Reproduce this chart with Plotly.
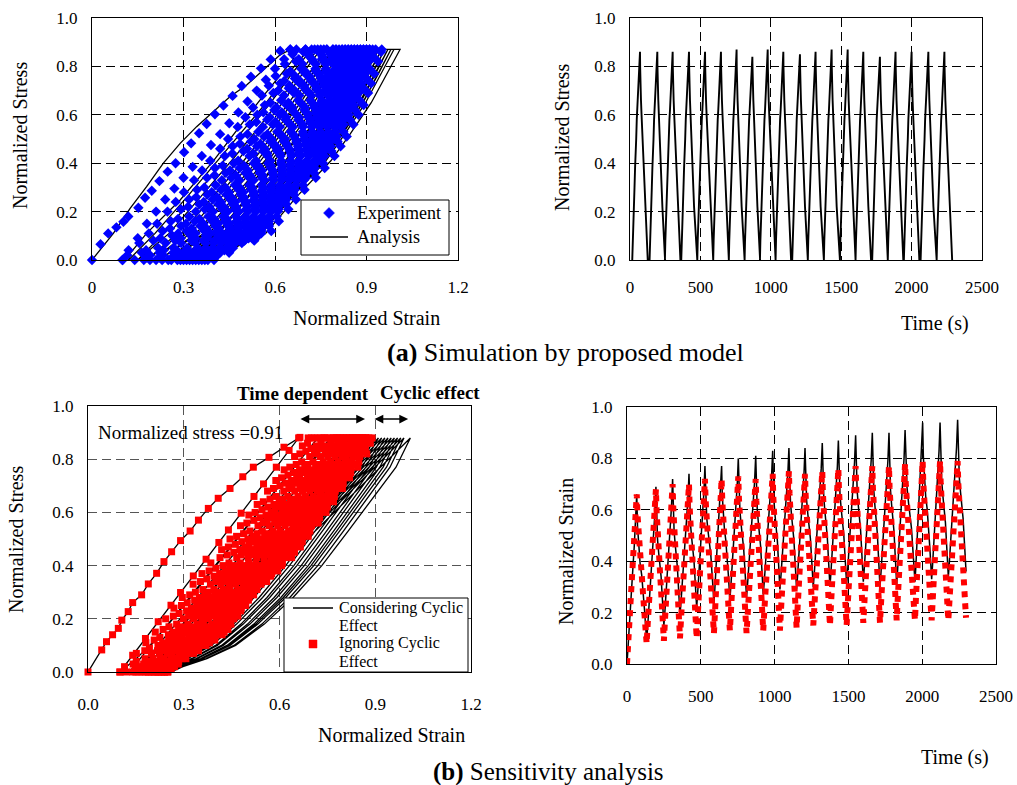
import numpy as np
import plotly.graph_objects as go

W, H = 1017, 785
FONT = "Liberation Serif"


def PX(px):
    return px / W


def PY(py):
    return 1 - py / H


# ================= (a) left : stress-strain, experiment vs analysis =================
EXP_FIRST_LOAD_STRAIN = [0.0, 0.028, 0.053, 0.080, 0.103, 0.119, 0.152, 0.174, 0.196, 0.221, 0.248, 0.274,
                         0.302, 0.325, 0.351, 0.376, 0.403, 0.431, 0.461, 0.491, 0.521, 0.554, 0.586, 0.617]
EXP_FIRST_LOAD_STRESS = [0.0, 0.065, 0.110, 0.135, 0.158, 0.180, 0.216, 0.257, 0.286, 0.326, 0.365, 0.400,
                         0.445, 0.482, 0.524, 0.562, 0.602, 0.638, 0.678, 0.719, 0.757, 0.792, 0.829, 0.864]
EXP_FIRST_UNLOAD_STRAIN = [0.65, 0.63, 0.60, 0.57, 0.54, 0.51, 0.48, 0.45, 0.42, 0.39, 0.36, 0.33, 0.30,
                           0.27, 0.24, 0.21, 0.18, 0.15, 0.12, 0.10]
EXP_FIRST_UNLOAD_STRESS = [0.87, 0.83, 0.79, 0.745, 0.70, 0.655, 0.61, 0.565, 0.52, 0.475, 0.43, 0.385, 0.34,
                           0.295, 0.25, 0.20, 0.15, 0.09, 0.04, 0.0]
EXP_ZERO_STRAIN = [0.10, 0.14, 0.17, 0.19, 0.21, 0.23, 0.25, 0.26, 0.28, 0.29, 0.30, 0.31, 0.32, 0.33, 0.34,
                   0.35, 0.36, 0.37, 0.38, 0.40]
EXP_PEAK_STRAIN = [0.62, 0.67, 0.70, 0.72, 0.74, 0.76, 0.77, 0.79, 0.80, 0.81, 0.82, 0.83, 0.84, 0.85, 0.86,
                   0.87, 0.88, 0.89, 0.90, 0.91]
EXP_HOLD_STRAIN = [0.65, 0.70, 0.73, 0.75, 0.77, 0.79, 0.80, 0.82, 0.83, 0.84, 0.85, 0.86, 0.87, 0.88, 0.89,
                   0.90, 0.91, 0.92, 0.93, 0.95]
EXP_TOP = 0.87

ANA_FIRST_LOAD_STRAIN = [0.0, 0.07, 0.125, 0.179, 0.234, 0.289, 0.343, 0.398, 0.452, 0.507, 0.562, 0.616, 0.66, 0.67]
ANA_FIRST_LOAD_STRESS = [0.0, 0.11, 0.213, 0.303, 0.40, 0.482, 0.551, 0.613, 0.675, 0.723, 0.785, 0.847, 0.875, 0.87]
ANA_FIRST_UNLOAD_STRAIN = [0.67, 0.66, 0.55, 0.40, 0.289, 0.179, 0.125, 0.12]
ANA_FIRST_UNLOAD_STRESS = [0.87, 0.83, 0.66, 0.413, 0.248, 0.11, 0.028, 0.0]
ANA_ZERO_STRAIN = [0.12, 0.15, 0.18, 0.20, 0.22, 0.24, 0.25, 0.27, 0.28, 0.29, 0.30, 0.31, 0.32, 0.33, 0.34,
                   0.35, 0.36, 0.37, 0.37, 0.38]
ANA_PEAK_STRAIN = [0.67, 0.71, 0.74, 0.77, 0.79, 0.81, 0.83, 0.85, 0.86, 0.88, 0.89, 0.90, 0.91, 0.92, 0.93,
                   0.94, 0.95, 0.96, 0.97, 0.98]
ANA_HOLD_STRAIN = [0.67, 0.72, 0.75, 0.78, 0.80, 0.82, 0.84, 0.86, 0.88, 0.89, 0.90, 0.92, 0.93, 0.94, 0.95,
                   0.96, 0.97, 0.98, 0.99, 1.01]

# loop shapes: stress level -> share of the loop width reached
# (early loops are nearly straight, late loops bend strongly near zero stress)
A_SHAPE_STRESS = [0.0, 0.11, 0.26, 0.41, 0.52, 0.65, 0.78, 0.87]
A_SHAPE_EARLY = [0.0, 0.12, 0.30, 0.47, 0.60, 0.75, 0.89, 1.0]
A_SHAPE_LATE = [0.0, 0.33, 0.50, 0.70, 0.80, 0.90, 0.96, 1.0]
ANA_SHAPE_LATE = [0.0, 0.30, 0.46, 0.64, 0.74, 0.85, 0.94, 1.0]
CURVE_WEIGHT = [0.0, 0.15, 0.3, 0.4, 0.5, 0.55, 0.6, 0.65, 0.7, 0.75, 0.8, 0.83, 0.86, 0.89, 0.92, 0.94,
                0.96, 0.98, 1.0, 1.0]

# stress levels of the recorded (stepped) readings, four staggered sets
MARK_STRESS = [
    [0.04, 0.09, 0.13, 0.17, 0.22, 0.26, 0.30, 0.35, 0.39, 0.44, 0.48, 0.52, 0.57, 0.61, 0.65, 0.70, 0.74, 0.78, 0.83],
    [0.01, 0.05, 0.10, 0.14, 0.18, 0.23, 0.27, 0.31, 0.36, 0.40, 0.45, 0.49, 0.53, 0.58, 0.62, 0.66, 0.71, 0.75, 0.79, 0.84],
    [0.02, 0.07, 0.11, 0.15, 0.20, 0.24, 0.28, 0.33, 0.37, 0.41, 0.46, 0.50, 0.55, 0.59, 0.63, 0.68, 0.72, 0.76, 0.81, 0.85],
    [0.03, 0.08, 0.12, 0.16, 0.21, 0.25, 0.29, 0.34, 0.38, 0.43, 0.47, 0.51, 0.56, 0.60, 0.64, 0.69, 0.73, 0.77, 0.82, 0.86],
]

# ================= (a) right : stress vs time =================
A_PEAK_T = [71, 194, 303, 419, 533, 646, 757, 869, 978, 1089, 1207, 1318, 1432, 1546, 1657, 1775, 1886,
            2000, 2119, 2233]
A_PEAK = [0.86, 0.86, 0.86, 0.86, 0.86, 0.86, 0.87, 0.84, 0.87, 0.86, 0.85, 0.86, 0.87, 0.87, 0.86, 0.84,
          0.86, 0.86, 0.86, 0.86]
A_RISE_DT = [-55, -52, -47, -43, -39, -35, -31, -27, -23, -19, -15, -11, -7, -3]
A_RISE_STRESS = [0.0, 0.08, 0.18, 0.22, 0.3, 0.38, 0.42, 0.5, 0.58, 0.62, 0.68, 0.70, 0.74, 0.82]
A_FALL_DT = [1, 3, 7, 11, 15, 19, 23, 27, 32, 36, 41, 46, 49, 53, 55]
A_FALL_STRESS = [0.8, 0.7, 0.66, 0.6, 0.55, 0.46, 0.42, 0.34, 0.28, 0.22, 0.16, 0.1, 0.06, 0.06, 0.0]

# ================= (b) left : sensitivity, stress-strain =================
RED_FIRST_LOAD_STRAIN = [0.0, 0.043, 0.058, 0.077, 0.095, 0.106, 0.126, 0.14, 0.168, 0.189, 0.215, 0.238,
                         0.262, 0.29, 0.32, 0.346, 0.377, 0.408, 0.445, 0.485, 0.518, 0.567, 0.614, 0.664]
RED_FIRST_LOAD_STRESS = [0.0, 0.083, 0.114, 0.14, 0.164, 0.195, 0.227, 0.261, 0.29, 0.331, 0.371, 0.415,
                         0.452, 0.494, 0.53, 0.571, 0.615, 0.653, 0.69, 0.734, 0.77, 0.807, 0.845, 0.882]
RED_FIRST_UNLOAD_STRAIN = [0.66, 0.63, 0.59, 0.55, 0.52, 0.48, 0.44, 0.41, 0.37, 0.33, 0.29, 0.26, 0.22,
                           0.18, 0.14, 0.10]
RED_FIRST_UNLOAD_STRESS = [0.88, 0.833, 0.77, 0.707, 0.66, 0.597, 0.534, 0.487, 0.424, 0.361, 0.299, 0.251,
                           0.189, 0.126, 0.063, 0.0]
RED_ZERO_STRAIN = [0.10, 0.12, 0.14, 0.15, 0.16, 0.17, 0.18, 0.19, 0.19, 0.20, 0.21, 0.21, 0.22, 0.22, 0.23,
                   0.23, 0.24, 0.24, 0.25, 0.25]
RED_PEAK_STRAIN = [0.66, 0.69, 0.71, 0.73, 0.74, 0.76, 0.77, 0.78, 0.79, 0.80, 0.81, 0.82, 0.83, 0.83, 0.84,
                   0.85, 0.85, 0.86, 0.87, 0.87]
RED_HOLD_STRAIN = [0.66, 0.70, 0.72, 0.74, 0.75, 0.77, 0.78, 0.79, 0.80, 0.81, 0.82, 0.83, 0.84, 0.84, 0.85,
                   0.86, 0.86, 0.87, 0.88, 0.89]
RED_TOP = 0.88
B_SHAPE_STRESS = [0.0, 0.035, 0.145, 0.30, 0.44, 0.616, 0.73, 0.81, 0.88]
RED_SHAPE_EARLY = [0.0, 0.04, 0.165, 0.34, 0.50, 0.70, 0.83, 0.92, 1.0]
RED_SHAPE_LATE = [0.0, 0.06, 0.28, 0.43, 0.62, 0.79, 0.89, 0.97, 1.0]

BLK_FIRST_UNLOAD_STRAIN = [0.66, 0.10]
BLK_FIRST_UNLOAD_STRESS = [0.88, 0.0]
BLK_ZERO_STRAIN = [0.10, 0.13, 0.15, 0.17, 0.18, 0.19, 0.20, 0.21, 0.22, 0.22, 0.23, 0.23, 0.24, 0.24, 0.25,
                   0.25, 0.25, 0.26, 0.26, 0.26]
BLK_PEAK_STRAIN = [0.66, 0.72, 0.76, 0.79, 0.82, 0.84, 0.86, 0.87, 0.89, 0.90, 0.91, 0.92, 0.93, 0.94, 0.95,
                   0.96, 0.97, 0.98, 0.99, 1.01]
BLK_SHAPE_STRESS = [0.0, 0.02, 0.05, 0.10, 0.18, 0.28, 0.40, 0.53, 0.66, 0.77, 0.88]
BLK_SHAPE_EARLY = [0.0, 0.03, 0.07, 0.13, 0.22, 0.33, 0.46, 0.60, 0.75, 0.87, 1.0]
BLK_SHAPE_LATE = [0.0, 0.05, 0.15, 0.27, 0.39, 0.51, 0.63, 0.74, 0.85, 0.94, 1.0]

# ================= (b) right : strain vs time =================
B_PEAK_T = [66, 196, 309, 420, 528, 641, 754, 872, 987, 1097, 1206, 1323, 1432, 1549, 1662, 1775, 1884,
            2003, 2121, 2240]
B_BLK_PEAK = [0.66, 0.69, 0.72, 0.74, 0.77, 0.77, 0.80, 0.81, 0.83, 0.84, 0.84, 0.86, 0.87, 0.89, 0.90,
              0.90, 0.91, 0.94, 0.94, 0.95]
B_RED_PEAK = [0.66, 0.68, 0.70, 0.70, 0.72, 0.72, 0.73, 0.72, 0.74, 0.75, 0.74, 0.75, 0.76, 0.77, 0.77,
              0.77, 0.78, 0.79, 0.79, 0.79]
B_TROUGH_T = [0, 133, 250, 359, 472, 589, 697, 810, 923, 1036, 1149, 1262, 1375, 1488, 1601, 1714, 1827,
              1951, 2064, 2177, 2297]
B_RED_TROUGH = [0.0, 0.08, 0.09, 0.10, 0.10, 0.12, 0.13, 0.12, 0.13, 0.13, 0.14, 0.15, 0.15, 0.15, 0.16,
                0.16, 0.17, 0.17, 0.17, 0.17, 0.18]
B_BLK_TROUGH = [0.0, 0.09, 0.15, 0.19, 0.22, 0.24, 0.25, 0.26, 0.27, 0.29, 0.29, 0.30, 0.30, 0.31, 0.32,
                0.30, 0.31, 0.32, 0.33, 0.34, 0.36]
B_RISE_POS = [0, 0.12, 0.25, 0.38, 0.5, 0.62, 0.75, 0.88, 1.0]
B_RED_RISE = [0, 0.13, 0.27, 0.40, 0.52, 0.64, 0.76, 0.88, 1.0]
B_BLK_RISE = [0, 0.10, 0.22, 0.36, 0.48, 0.58, 0.70, 0.82, 1.0]
B_FALL_POS = [0, 0.08, 0.2, 0.35, 0.5, 0.65, 0.8, 0.92, 1.0]
B_RED_FALL = [1, 0.86, 0.72, 0.58, 0.45, 0.32, 0.18, 0.07, 0]
B_BLK_FALL = [1, 0.78, 0.62, 0.52, 0.45, 0.35, 0.2, 0.08, 0]

X_TICKS_STRAIN = [0, 0.3, 0.6, 0.9, 1.2]
Y_TICKS = [0, 0.2, 0.4, 0.6, 0.8, 1.0]
Y_TICKTEXT = ["0.0", "0.2", "0.4", "0.6", "0.8", "1.0"]
T_TICKS = [0, 500, 1000, 1500, 2000, 2500]


# ---------------- path builders ----------------
def share(s, sh_s, early, late, w):
    return (1 - w) * float(np.interp(s, sh_s, early)) + w * float(np.interp(s, sh_s, late))


def marker_loops(first_x, first_y, zero, peak, hold, top, sh_s, early, late):
    xs, ys = list(first_x), list(first_y)
    for k in range(1, len(zero)):
        z0, p, h, z1, w = zero[k - 1], peak[k], hold[k], zero[k], CURVE_WEIGHT[k]
        lv = MARK_STRESS[(2 * k) % 4]
        xs += [z0] + [z0 + share(s, sh_s, early, late, w) * (p - z0) for s in lv] + [p, h]
        ys += [0.0] + lv + [top, top]
        lv = MARK_STRESS[(2 * k + 1) % 4][::-1]
        xs += [z1 + share(s, sh_s, early, late, w) * (h - z1) for s in lv]
        ys += lv
    xs.append(zero[-1]); ys.append(0.0)
    return xs, ys


def line_loops(first_x, first_y, zero, peak, hold, sh_s, early, late, unload_curved=True):
    xs, ys = list(first_x), list(first_y)
    for k in range(1, len(zero)):
        z0, p, z1, w = zero[k - 1], peak[k], zero[k], CURVE_WEIGHT[k]
        h = hold[k] if hold else p
        xs += [z0 + share(s, sh_s, early, late, w) * (p - z0) for s in sh_s] + [h]
        ys += list(sh_s) + [sh_s[-1]]
        if unload_curved:
            xs += [z1 + share(s, sh_s, early, late, w) * (h - z1) for s in sh_s[::-1]]
            ys += list(sh_s[::-1])
        else:
            xs.append(z1); ys.append(0.0)
    return xs, ys


exp_x, exp_y = marker_loops(EXP_FIRST_LOAD_STRAIN + [EXP_HOLD_STRAIN[0]] + EXP_FIRST_UNLOAD_STRAIN,
                            EXP_FIRST_LOAD_STRESS + [EXP_TOP] + EXP_FIRST_UNLOAD_STRESS,
                            EXP_ZERO_STRAIN, EXP_PEAK_STRAIN, EXP_HOLD_STRAIN, EXP_TOP,
                            A_SHAPE_STRESS, A_SHAPE_EARLY, A_SHAPE_LATE)
ana_x, ana_y = line_loops(ANA_FIRST_LOAD_STRAIN + ANA_FIRST_UNLOAD_STRAIN,
                          ANA_FIRST_LOAD_STRESS + ANA_FIRST_UNLOAD_STRESS,
                          ANA_ZERO_STRAIN, ANA_PEAK_STRAIN, ANA_HOLD_STRAIN,
                          A_SHAPE_STRESS, A_SHAPE_EARLY, ANA_SHAPE_LATE)
red_x, red_y = marker_loops(RED_FIRST_LOAD_STRAIN + RED_FIRST_UNLOAD_STRAIN,
                            RED_FIRST_LOAD_STRESS + RED_FIRST_UNLOAD_STRESS,
                            RED_ZERO_STRAIN, RED_PEAK_STRAIN, RED_HOLD_STRAIN, RED_TOP,
                            B_SHAPE_STRESS, RED_SHAPE_EARLY, RED_SHAPE_LATE)
blk_x, blk_y = line_loops(RED_FIRST_LOAD_STRAIN + BLK_FIRST_UNLOAD_STRAIN,
                          RED_FIRST_LOAD_STRESS + BLK_FIRST_UNLOAD_STRESS,
                          BLK_ZERO_STRAIN, BLK_PEAK_STRAIN, None,
                          BLK_SHAPE_STRESS, BLK_SHAPE_EARLY, BLK_SHAPE_LATE, unload_curved=False)

at, ay = [], []
for tp, pk in zip(A_PEAK_T, A_PEAK):
    at += [tp + d for d in A_RISE_DT] + [tp] + [tp + d for d in A_FALL_DT]
    ay += A_RISE_STRESS + [pk] + A_FALL_STRESS


def strain_series(peaks, troughs, rise, fall):
    ts, vs = [], []
    for k, (tp, pk) in enumerate(zip(B_PEAK_T, peaks)):
        t0, v0 = B_TROUGH_T[k], troughs[k]
        t1, v1 = B_TROUGH_T[k + 1], troughs[k + 1]
        for pos, f in zip(B_RISE_POS, rise):
            ts.append(t0 + pos * (tp - t0)); vs.append(v0 + f * (pk - v0))
        for pos, f in zip(B_FALL_POS[1:], fall[1:]):
            ts.append(tp + pos * (t1 - tp)); vs.append(v1 + f * (pk - v1))
    return ts, vs


bt_blk, bv_blk = strain_series(B_BLK_PEAK, B_BLK_TROUGH, B_BLK_RISE, B_BLK_FALL)
bt_red, bv_red = strain_series(B_RED_PEAK, B_RED_TROUGH, B_RED_RISE, B_RED_FALL)

# ---------------- figure ----------------
fig = go.Figure()
fig.add_trace(go.Scatter(x=ana_x, y=ana_y, mode="lines", name="Analysis", showlegend=False,
                         line=dict(color="black", width=1.3), xaxis="x", yaxis="y"))
fig.add_trace(go.Scatter(x=exp_x, y=exp_y, mode="markers", name="Experiment", showlegend=False,
                         marker=dict(symbol="diamond", size=8, color="#0000FF"), cliponaxis=False,
                         xaxis="x", yaxis="y"))
fig.add_trace(go.Scatter(x=at, y=ay, mode="lines", showlegend=False,
                         line=dict(color="black", width=1.9), xaxis="x2", yaxis="y2"))
fig.add_trace(go.Scatter(x=blk_x, y=blk_y, mode="lines", name="Considering Cyclic Effect", showlegend=False,
                         line=dict(color="black", width=1.3), xaxis="x3", yaxis="y3"))
fig.add_trace(go.Scatter(x=red_x, y=red_y, mode="markers", name="Ignoring Cyclic Effect", showlegend=False,
                         marker=dict(symbol="square", size=7, color="#FF0000"), cliponaxis=False,
                         xaxis="x3", yaxis="y3"))
fig.add_trace(go.Scatter(x=bt_blk, y=bv_blk, mode="lines", showlegend=False,
                         line=dict(color="black", width=1.5), xaxis="x4", yaxis="y4"))
fig.add_trace(go.Scatter(x=bt_red, y=bv_red, mode="lines", showlegend=False,
                         line=dict(color="#FF0000", width=6, dash="dot"), xaxis="x4", yaxis="y4"))

tickfont = dict(family=FONT, size=17, color="black")


def xax(dom, rng, tickvals, ticktext, anchor, gridcolor, standoff):
    return dict(domain=dom, range=rng, tickvals=tickvals, ticktext=ticktext, anchor=anchor,
                showline=True, mirror=True, linecolor="black", linewidth=1.2, ticks="",
                showgrid=True, gridcolor=gridcolor, griddash="9px,5px", gridwidth=1, zeroline=False,
                tickfont=tickfont, ticklabelstandoff=standoff, fixedrange=True, automargin=False)


def yax(dom, anchor, gridcolor):
    return dict(domain=dom, range=[0, 1.0], tickvals=Y_TICKS, ticktext=Y_TICKTEXT, anchor=anchor,
                showline=True, mirror=True, linecolor="black", linewidth=1.2, ticks="",
                showgrid=True, gridcolor=gridcolor, griddash="9px,5px", gridwidth=1, zeroline=False,
                tickfont=tickfont, ticklabelstandoff=10, fixedrange=True, automargin=False)


ya_a = [PY(260), PY(18)]
fig.update_layout(
    width=W, height=H, autosize=False, margin=dict(l=0, r=0, t=0, b=0),
    paper_bgcolor="white", plot_bgcolor="white", showlegend=False,
    font=dict(family=FONT, color="black"),
    xaxis=xax([PX(92), PX(458)], [0, 1.2], X_TICKS_STRAIN, ["0", "0.3", "0.6", "0.9", "1.2"], "y", "black", 11),
    yaxis=yax(ya_a, "x", "black"),
    xaxis2=xax([PX(630), PX(982)], [0, 2500], T_TICKS, [str(v) for v in T_TICKS], "y2", "black", 11),
    yaxis2=yax(ya_a, "x2", "black"),
    xaxis3=xax([PX(88), PX(471)], [0, 1.2], X_TICKS_STRAIN, ["0.0", "0.3", "0.6", "0.9", "1.2"], "y3",
               "#555555", 16),
    yaxis3=yax([PY(672), PY(406)], "x3", "#555555"),
    xaxis4=xax([PX(627), PX(996)], [0, 2500], T_TICKS, [str(v) for v in T_TICKS], "y4", "black", 16),
    yaxis4=yax([PY(664), PY(407)], "x4", "black"),
)

ann, shapes = [], []


def text(s, px, py, size, angle=0, anchor="center"):
    ann.append(dict(text=s, x=PX(px), y=PY(py), xref="paper", yref="paper", showarrow=False,
                    xanchor=anchor, yanchor="middle", textangle=angle,
                    font=dict(family=FONT, size=size, color="black")))


text("Normalized Stress", 20, 136, 20, -90)
text("Normalized Strain", 366, 318, 20)
text("Normalized Stress", 562, 138, 20, -90)
text("Time (s)", 935, 323, 20)
text("<b>(a)</b> Simulation by proposed model", 565, 352, 26)
text("Normalized Stress", 16, 540, 20, -90)
text("Normalized Strain", 391, 735, 20)
text("Normalized Strain", 566, 552, 20, -90)
text("Time (s)", 955, 757, 20)
text("<b>(b)</b> Sensitivity analysis", 548, 772, 25)
text("Normalized stress =0.91", 190, 432, 19)
text("<b>Time dependent</b>", 303, 393, 19)
text("<b>Cyclic effect</b>", 430, 392, 19)

for x0, x1 in [(0.661, 0.868), (0.893, 1.003)]:
    ann.append(dict(x=x1, y=0.951, ax=x0, ay=0.951, xref="x3", yref="y3", axref="x3", ayref="y3",
                    text="", showarrow=True, arrowhead=2, arrowside="end+start", arrowsize=1.1,
                    arrowwidth=1.6, arrowcolor="black"))


def rect(x0, y0, x1, y1, fill, width=1, color="black"):
    shapes.append(dict(type="rect", xref="paper", yref="paper", x0=PX(x0), x1=PX(x1), y0=PY(y1), y1=PY(y0),
                       fillcolor=fill, line=dict(color=color, width=width), layer="above"))


def hline(x0, x1, y, width=1.3):
    shapes.append(dict(type="line", xref="paper", yref="paper", x0=PX(x0), x1=PX(x1), y0=PY(y), y1=PY(y),
                       line=dict(color="black", width=width), layer="above"))


# legend of (a)
rect(301, 200, 449, 255, "white")
d = 5.5
shapes.append(dict(type="path", xref="paper", yref="paper", layer="above", fillcolor="#0000FF",
                   line=dict(color="#0000FF", width=0.5),
                   path=f"M {PX(329)},{PY(213 - d)} L {PX(329 + d)},{PY(213)} L {PX(329)},{PY(213 + d)} "
                        f"L {PX(329 - d)},{PY(213)} Z"))
text("Experiment", 355, 213, 18, anchor="left")
hline(310, 348, 237)
text("Analysis", 355, 237, 18, anchor="left")

# legend of (b)
rect(284, 598, 468, 672, "white")
hline(293, 333, 608)
text("Considering Cyclic", 337, 608, 16, anchor="left")
text("Effect", 337, 625, 16, anchor="left")
rect(309, 640, 317, 648, "#FF0000", width=0.5, color="#FF0000")
text("Ignoring Cyclic", 337, 643, 16, anchor="left")
text("Effect", 337, 661, 16, anchor="left")

fig.update_layout(annotations=ann, shapes=shapes)
fig.write_html("out.html")
